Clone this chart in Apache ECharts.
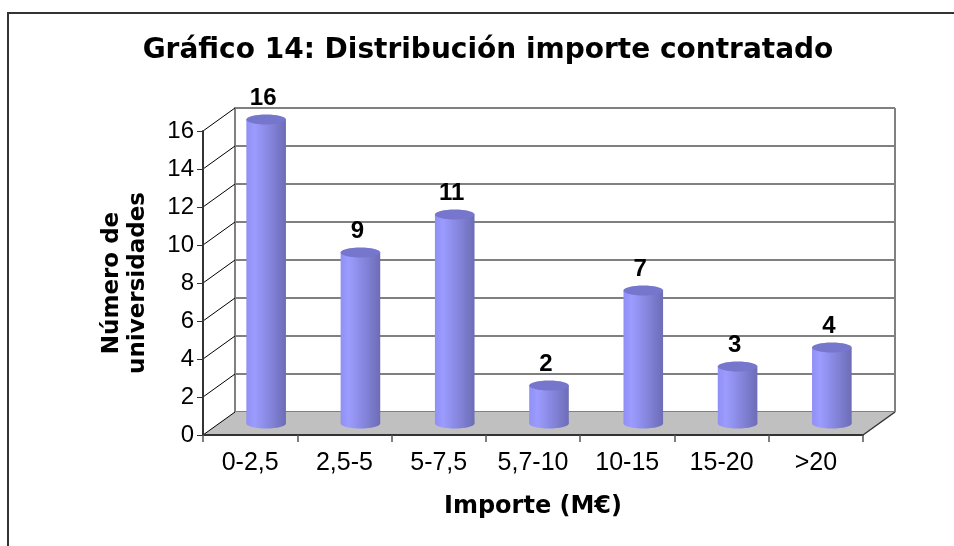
<!DOCTYPE html>
<html>
<head>
<meta charset="utf-8">
<script src="https://cdn.jsdelivr.net/npm/echarts@6/dist/echarts.min.js"></script>
<style>
    html, body { margin: 0; padding: 0; background: #fff; }
    #chart { width: 954px; height: 546px; }
</style>
</head>
<body>
<div id="chart"></div>
<script>
// datos del gráfico
var categorias = ['0-2,5', '2,5-5', '5-7,5', '5,7-10', '10-15', '15-20', '>20'];
var universidades = [16, 9, 11, 2, 7, 3, 4];
var ticksY = [0, 2, 4, 6, 8, 10, 12, 14, 16];

var DX = 32;   // profundidad 3D
var DY = -23;

var chart = echarts.init(document.getElementById('chart'));

// paredes laterales, suelo y pared derecha
function renderWalls(params, api) {
    var v = api.value(0);
    var bw = api.size([1, 0])[0];
    var p0 = api.coord([0, v]);
    var pl = api.coord([categorias.length - 1, v]);
    var xl = p0[0] - bw / 2;
    var xr = pl[0] + bw / 2;
    var y = p0[1];
    var children = [{
        type: 'line',
        shape: {x1: xl, y1: y, x2: xl + DX, y2: y + DY},
        style: {stroke: '#000', lineWidth: 1}
    }];
    if (v === 0) {
        var top = api.coord([0, ticksY[ticksY.length - 1]])[1];
        children.unshift({
            type: 'polygon',
            shape: {points: [[xl, y], [xr, y], [xr + DX, y + DY], [xl + DX, y + DY]]},
            style: {fill: '#c0c0c0'}
        });
        children.push({
            type: 'line',
            shape: {x1: xr, y1: y, x2: xr + DX, y2: y + DY},
            style: {stroke: '#333', lineWidth: 1.5}
        });
        children.push({
            type: 'line',
            shape: {x1: xr + DX, y1: y + DY, x2: xr + DX, y2: top + DY},
            style: {stroke: '#808080', lineWidth: 2}
        });
    }
    return {type: 'group', children: children};
}

// cilindros
function renderCylinder(params, api) {
    var i = api.value(0);
    var v = api.value(1);
    var bw = api.size([1, 0])[0];
    var w = bw * 0.42;
    var pTop = api.coord([i, v]);
    var pBase = api.coord([i, 0]);
    var cx = pTop[0] + DX / 2;
    var yt = pTop[1] + DY / 2;
    var yb = pBase[1] + DY / 2;
    var ry = 5;
    var grad = new echarts.graphic.LinearGradient(0, 0, 1, 0, [
        {offset: 0, color: '#8f8ff5'},
        {offset: 0.2, color: '#9c9cff'},
        {offset: 0.6, color: '#8585dd'},
        {offset: 1, color: '#6c6cb6'}
    ]);
    return {
        type: 'group',
        children: [
            {type: 'ellipse', shape: {cx: cx, cy: yb, rx: w / 2, ry: ry}, style: {fill: grad}},
            {type: 'rect', shape: {x: cx - w / 2, y: yt, width: w, height: yb - yt}, style: {fill: grad}},
            {type: 'ellipse', shape: {cx: cx, cy: yt, rx: w / 2, ry: ry}, style: {fill: '#7676cc'}},
            {
                type: 'text',
                x: cx - 3,
                y: yt - ry - 4,
                style: {
                    text: String(v),
                    fontFamily: 'Liberation Sans',
                    fontWeight: 'bold',
                    fontSize: 24,
                    fill: '#000',
                    align: 'center',
                    verticalAlign: 'bottom'
                }
            }
        ]
    };
}

var option = {
    backgroundColor: '#fff',
    animation: false,
    title: {
        text: 'Gráfico 14: Distribución importe contratado',
        left: 483,
        top: 32,
        textAlign: 'center',
        textStyle: {
            fontFamily: 'DejaVu Sans',
            fontWeight: 'bold',
            fontSize: 28,
            color: '#000'
        }
    },
    graphic: [
        {
            type: 'rect',
            shape: {x: 8, y: 13, width: 1000, height: 1000},
            style: {fill: 'none', stroke: '#333', lineWidth: 2},
            z: 100
        },
        {
            type: 'text',
            x: 533,
            y: 507,
            style: {
                text: 'Importe (M€)',
                fontFamily: 'DejaVu Sans',
                fontWeight: 'bold',
                fontSize: 24,
                fill: '#000',
                align: 'center',
                verticalAlign: 'middle'
            }
        }
    ],
    grid: [
        // plano frontal
        {left: 203, top: 131, width: 660, height: 304},
        // pared del fondo
        {left: 235, top: 108, width: 660, height: 304}
    ],
    xAxis: [
        {
            type: 'category',
            gridIndex: 0,
            data: categorias,
            boundaryGap: true,
            axisLine: {lineStyle: {color: '#333', width: 2}},
            axisTick: {show: true, length: 7, lineStyle: {color: '#555', width: 1.5}},
            axisLabel: {
                margin: 16,
                fontFamily: 'Liberation Sans',
                fontSize: 25,
                color: '#000'
            },
            z: 5
        },
        {
            type: 'category',
            gridIndex: 1,
            data: categorias,
            show: false
        }
    ],
    yAxis: [
        {
            type: 'value',
            gridIndex: 0,
            min: 0,
            max: 16,
            interval: 2,
            name: 'Número de\nuniversidades',
            nameLocation: 'middle',
            nameGap: 52,
            nameTextStyle: {
                fontFamily: 'DejaVu Sans',
                fontWeight: 'bold',
                fontSize: 23,
                color: '#000',
                lineHeight: 26
            },
            axisLine: {show: true, lineStyle: {color: '#333', width: 2}},
            axisTick: {show: true, length: 6, lineStyle: {color: '#333', width: 1}},
            axisLabel: {
                margin: 9,
                fontFamily: 'Liberation Sans',
                fontSize: 24,
                color: '#000'
            },
            splitLine: {show: false},
            z: 5
        },
        {
            type: 'value',
            gridIndex: 1,
            min: 0,
            max: 16,
            interval: 2,
            axisLine: {show: true, lineStyle: {color: '#808080', width: 2}},
            axisTick: {show: false},
            axisLabel: {show: false},
            splitLine: {show: true, lineStyle: {color: '#808080', width: 2}}
        }
    ],
    series: [
        {
            type: 'custom',
            xAxisIndex: 0,
            yAxisIndex: 0,
            renderItem: renderWalls,
            encode: {x: -1, y: 0},
            data: ticksY.map(function (t) { return [t]; }),
            z: 1,
            silent: true
        },
        {
            type: 'custom',
            xAxisIndex: 0,
            yAxisIndex: 0,
            renderItem: renderCylinder,
            encode: {x: 0, y: 1},
            data: universidades.map(function (v, i) { return [i, v]; }),
            z: 3,
            silent: true
        }
    ]
};

chart.setOption(option);
</script>
</body>
</html>
